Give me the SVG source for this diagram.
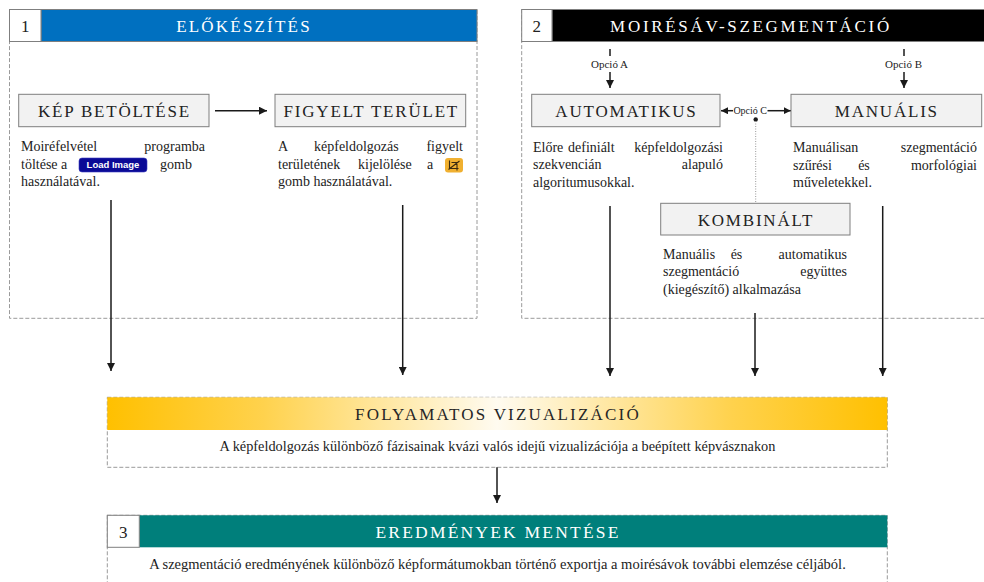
<svg xmlns="http://www.w3.org/2000/svg" width="984" height="582" viewBox="0 0 984 582">
<defs>
<style>
.panel{fill:none;stroke:#9a9a9a;stroke-width:1;stroke-dasharray:4 2}
.num{fill:#fff;stroke:#7f7f7f;stroke-width:1}
.numt{font-family:"Liberation Serif",serif;font-size:17px;fill:#222;text-anchor:middle}
.ht{font-family:"Liberation Serif",serif;font-size:17px;letter-spacing:2.2px;text-anchor:middle}
.box{fill:#f2f2f2;stroke:#7f7f7f;stroke-width:1}
.bt{font-family:"Liberation Serif",serif;font-size:17px;letter-spacing:1.8px;fill:#222;text-anchor:middle}
.tx{font-family:"Liberation Serif",serif;font-size:14px;fill:#222}
.e{text-anchor:end}
.m{text-anchor:middle}
.opt{font-family:"Liberation Serif",serif;font-size:11px;fill:#222;text-anchor:middle}
.arr{stroke:#1a1a1a;stroke-width:1.5;fill:none;marker-end:url(#ah)}
.ln{stroke:#1a1a1a;stroke-width:1.5;fill:none}
</style>
<marker id="ah" viewBox="0 0 8 8" refX="8" refY="4" markerWidth="8" markerHeight="8" markerUnits="userSpaceOnUse" orient="auto-start-reverse">
<path d="M0,0 L8,4 L0,8 z" fill="#1a1a1a"/>
</marker>
<marker id="ahs" viewBox="0 0 7 7" refX="7" refY="3.5" markerWidth="7" markerHeight="7" markerUnits="userSpaceOnUse" orient="auto-start-reverse">
<path d="M0,0 L7,3.5 L0,7 z" fill="#1a1a1a"/>
</marker>
<linearGradient id="gold" x1="0" y1="0" x2="1" y2="0">
<stop offset="0" stop-color="#FFC000"/>
<stop offset="0.2" stop-color="#FFD24D"/>
<stop offset="0.5" stop-color="#FFFBF0"/>
<stop offset="0.8" stop-color="#FFD24D"/>
<stop offset="1" stop-color="#FFC000"/>
</linearGradient>
</defs>
<rect x="0" y="0" width="984" height="582" fill="#fff"/>

<g id="panel1">
<rect class="panel" x="9.5" y="9.5" width="467.5" height="308.8"/>
<rect x="41" y="9.5" width="436" height="32" fill="#0070C0" stroke="#7f7f7f" stroke-width="1"/>
<rect class="num" x="9.5" y="9.5" width="31.5" height="32"/>
<text class="numt" x="25.3" y="31.5">1</text>
<text class="ht" x="244" y="31.5" fill="#fff">ELŐKÉSZÍTÉS</text>
</g>

<g id="panel2">
<rect class="panel" x="521.7" y="9.5" width="470" height="308.8"/>
<rect x="552" y="9.5" width="440" height="32" fill="#000" stroke="#7f7f7f" stroke-width="1"/>
<rect class="num" x="521.7" y="9.5" width="30.3" height="32"/>
<text class="numt" x="536.8" y="31.5">2</text>
<text class="ht" x="751" y="31.5" fill="#fff" style="letter-spacing:2.7px">MOIRÉSÁV-SZEGMENTÁCIÓ</text>
</g>

<g id="kep-betoltese">
<rect class="box" x="18.7" y="94.3" width="190.3" height="32.4"/>
<text class="bt" x="114.5" y="116.5">KÉP BETÖLTÉSE</text>
<text class="tx" y="151"><tspan x="21">Moiréfelvétel</tspan><tspan x="205" class="e">programba</tspan></text>
<text class="tx" y="168.5"><tspan x="21">töltése a</tspan><tspan x="160">gomb</tspan></text>
<rect x="79" y="158" width="68" height="14" rx="3" fill="#0a0a96" stroke="#3a3ac0" stroke-width="0.6"/>
<text x="113" y="168.3" font-family="Liberation Sans,Arial,sans-serif" font-size="9.5" font-weight="bold" fill="#fff" text-anchor="middle">Load Image</text>
<text class="tx" y="186"><tspan x="21">használatával.</tspan></text>
</g>

<g id="figyelt-terulet">
<rect class="box" x="275" y="94.3" width="190.7" height="32.4"/>
<text class="bt" x="371.3" y="116.5">FIGYELT TERÜLET</text>
<text class="tx" y="151"><tspan x="278">A</tspan><tspan x="314">képfeldolgozás</tspan><tspan x="463" class="e">figyelt</tspan></text>
<text class="tx" y="168.5"><tspan x="278">területének</tspan><tspan x="358">kijelölése</tspan><tspan x="427">a</tspan></text>
<rect x="445" y="158" width="18" height="14.5" rx="3" fill="#F0B030"/>
<path d="M449.5,160.5 V168.5 H458.5 M451.5,162.5 H457 V170.5 M448.5,169.5 L459.5,161" stroke="#3a2a10" stroke-width="1.1" fill="none"/>
<text class="tx" y="186"><tspan x="278">gomb használatával.</tspan></text>
</g>

<g id="automatikus">
<rect class="box" x="531.7" y="94.3" width="188.3" height="32.4"/>
<text class="bt" x="626.5" y="116.5">AUTOMATIKUS</text>
<text class="tx" y="151.5"><tspan x="533">Előre</tspan><tspan x="568">definiált</tspan><tspan x="723" class="e">képfeldolgozási</tspan></text>
<text class="tx" y="169"><tspan x="533">szekvencián</tspan><tspan x="723" class="e">alapuló</tspan></text>
<text class="tx" y="186.5"><tspan x="533">algoritumusokkal.</tspan></text>
</g>

<g id="manualis">
<rect class="box" x="791" y="94.3" width="190.7" height="32.4"/>
<text class="bt" x="886.8" y="116.5">MANUÁLIS</text>
<text class="tx" y="152"><tspan x="793">Manuálisan</tspan><tspan x="977" class="e">szegmentáció</tspan></text>
<text class="tx" y="169.5"><tspan x="793">szűrési</tspan><tspan x="864" class="m">és</tspan><tspan x="977" class="e">morfológiai</tspan></text>
<text class="tx" y="187"><tspan x="793">műveletekkel.</tspan></text>
</g>

<g id="kombinalt">
<rect class="box" x="660.7" y="203.3" width="189.3" height="31.7"/>
<text class="bt" x="756" y="225.5">KOMBINÁLT</text>
<text class="tx" y="258.5"><tspan x="663">Manuális</tspan><tspan x="736.5" class="m">és</tspan><tspan x="847" class="e">automatikus</tspan></text>
<text class="tx" y="276"><tspan x="663">szegmentáció</tspan><tspan x="847" class="e">együttes</tspan></text>
<text class="tx" y="293.5"><tspan x="663">(kiegészítő) alkalmazása</tspan></text>
</g>

<g id="folyamatos-vizualizacio">
<rect class="panel" x="107.3" y="397.3" width="780" height="70"/>
<rect x="107.3" y="397.3" width="780" height="32.7" fill="url(#gold)"/>
<text class="ht" x="498" y="420" fill="#262626">FOLYAMATOS VIZUALIZÁCIÓ</text>
<text class="tx m" x="497.5" y="451" style="font-size:14.3px">A képfeldolgozás különböző fázisainak kvázi valós idejű vizualizációja a beépített képvásznakon</text>
</g>

<g id="eredmenyek-mentese">
<rect class="panel" x="107.3" y="515.3" width="780" height="80"/>
<rect x="139.3" y="515.3" width="748" height="32" fill="#007F7B"/>
<rect class="num" x="107.3" y="515.3" width="32" height="32"/>
<text class="numt" x="123.3" y="537.5">3</text>
<text class="ht" x="498" y="537.5" fill="#fff" style="font-size:17.5px">EREDMÉNYEK MENTÉSE</text>
<text class="tx m" x="497.5" y="568.5" style="font-size:14.5px">A szegmentáció eredményének különböző képformátumokban történő exportja a moirésávok további elemzése céljából.</text>
</g>

<g id="connectors">
<line class="arr" x1="215" y1="110.7" x2="267" y2="110.7"/>
<line class="ln" x1="610" y1="49" x2="610" y2="56"/>
<text class="opt" x="609.5" y="68">Opció A</text>
<line class="arr" x1="610" y1="72" x2="610" y2="88"/>
<line class="ln" x1="904" y1="49" x2="904" y2="56"/>
<text class="opt" x="903.5" y="68">Opció B</text>
<line class="arr" x1="904" y1="72" x2="904" y2="88"/>
<line x1="721" y1="110.7" x2="733" y2="110.7" stroke="#1a1a1a" stroke-width="1.5" marker-start="url(#ahs)"/>
<line x1="767.5" y1="110.7" x2="790.7" y2="110.7" stroke="#1a1a1a" stroke-width="1.5" marker-end="url(#ahs)"/>
<text class="opt" x="750.2" y="114" style="font-size:10px">Opció C</text>
<circle cx="755.7" cy="119.5" r="2.2" fill="#1a1a1a"/>
<line x1="755.7" y1="121" x2="755.7" y2="203" stroke="#999" stroke-width="1" stroke-dasharray="1 1.5"/>
<line class="arr" x1="111" y1="200" x2="111" y2="371"/>
<line class="arr" x1="402.7" y1="205" x2="402.7" y2="375"/>
<line class="arr" x1="610" y1="206" x2="610" y2="376"/>
<line class="arr" x1="755" y1="313" x2="755" y2="376"/>
<line class="arr" x1="882.7" y1="206" x2="882.7" y2="376"/>
<line class="arr" x1="497" y1="467.3" x2="497" y2="503"/>
</g>
</svg>
